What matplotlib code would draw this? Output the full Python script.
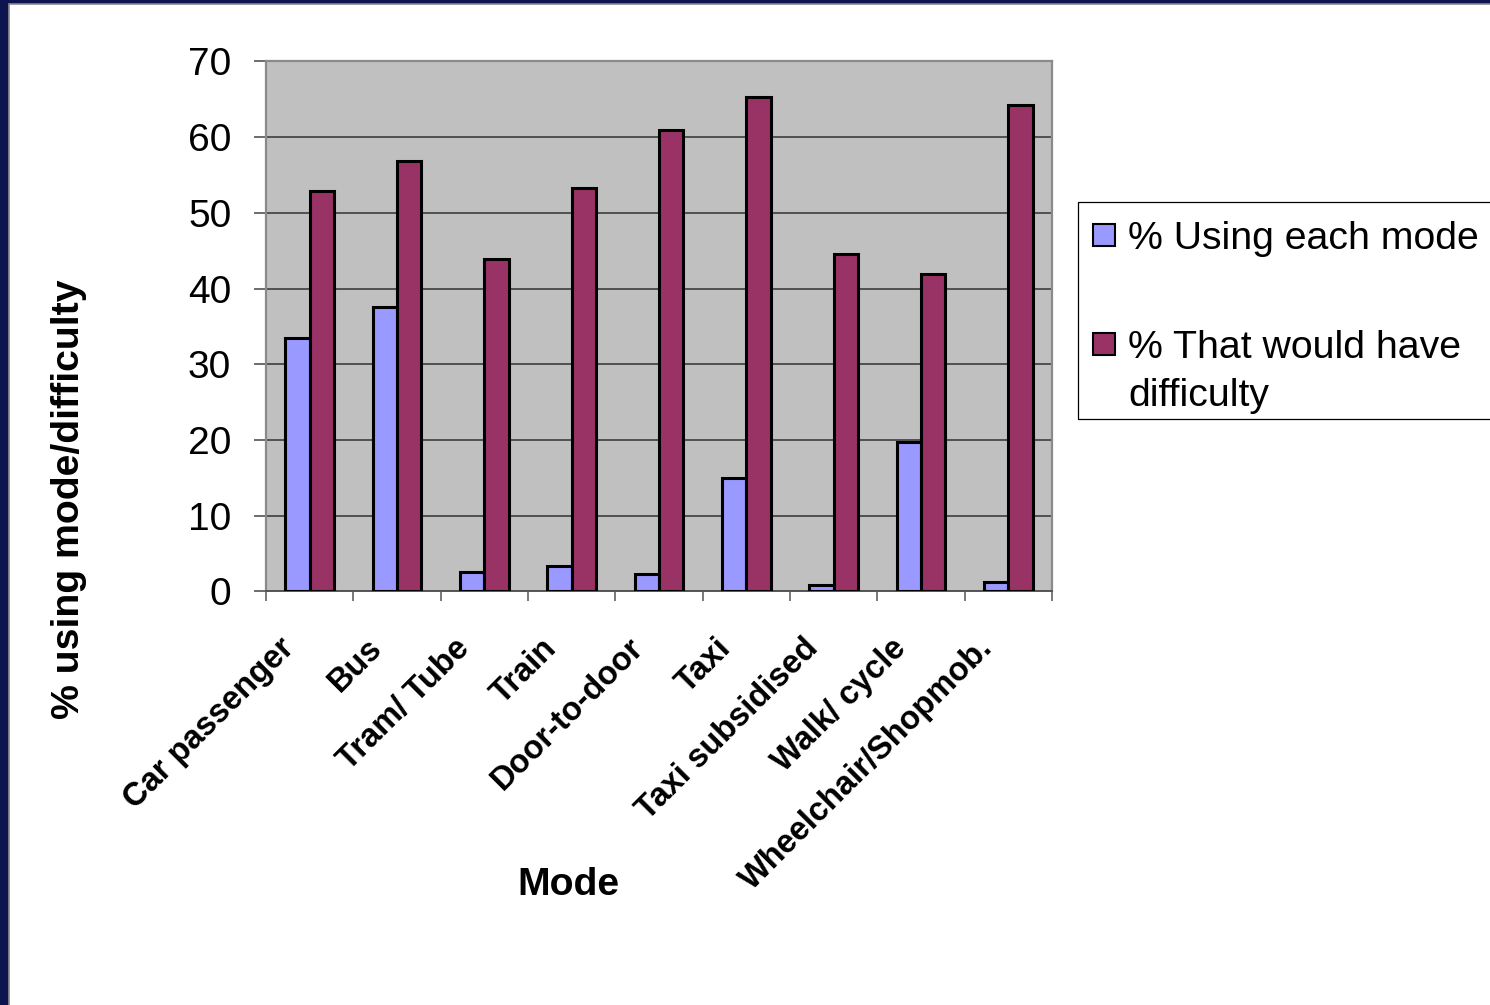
import numpy as np
import matplotlib
matplotlib.use("Agg")
import matplotlib.pyplot as plt
from matplotlib.patches import Rectangle
from matplotlib.transforms import ScaledTranslation, blended_transform_factory

plt.rcParams['font.family'] = ['Liberation Sans', 'DejaVu Sans']

# ---- data ----
modes = ["Car passenger", "Bus", "Tram/ Tube", "Train", "Door-to-door",
         "Taxi", "Taxi subsidised", "Walk/ cycle", "Wheelchair/Shopmob."]
pct_using = [33.5, 37.5, 2.6, 3.3, 2.3, 15.0, 0.9, 19.7, 1.3]
pct_difficulty = [52.9, 56.9, 43.9, 53.3, 60.9, 65.3, 44.5, 41.9, 64.3]
series_labels = ["% Using each mode", "% That would have\ndifficulty"]
series_colors = ["#9999FF", "#993366"]
y_ticks = [0, 10, 20, 30, 40, 50, 60, 70]

W, H = 1490, 1005
fig = plt.figure(figsize=(W / 100, H / 100), dpi=100)
fig.patch.set_facecolor("#0E144F")

# white slide area inside the dark frame
fig.patches.append(Rectangle((9 / W, -0.02), 1.1, 1 - 4.5 / H + 0.02,
                             transform=fig.transFigure, facecolor="white",
                             edgecolor="#8A8A8A", lw=1.2, zorder=-5))

ax = fig.add_axes([266 / W, 1 - 591.4 / H, 786 / W, 530 / H])
ax.set_facecolor("#C0C0C0")

x = np.arange(len(modes))
w = 0.28
ax.bar(x - w / 2, pct_using, w, color=series_colors[0], edgecolor="black",
       linewidth=2.2, zorder=3)
ax.bar(x + w / 2, pct_difficulty, w, color=series_colors[1], edgecolor="black",
       linewidth=2.2, zorder=3)

ax.set_xlim(-0.5, len(modes) - 0.5)
ax.set_ylim(0, 70)
ax.set_yticks(y_ticks)
ax.yaxis.grid(True, color="#333333", linewidth=1.1)
ax.set_axisbelow(True)

for side in ["top", "right", "left"]:
    ax.spines[side].set_color("#8A8A8A")
    ax.spines[side].set_linewidth(1.6)
ax.spines["bottom"].set_color("#555555")
ax.spines["bottom"].set_linewidth(1.4)

ax.tick_params(axis="y", direction="out", length=9, width=1.1, color="#444444",
               labelsize=28, pad=16)

# tick marks between categories, labels drawn separately
ax.set_xticks(np.arange(-0.5, len(modes), 1.0))
ax.set_xticklabels([])
ax.tick_params(axis="x", direction="out", length=7.5, width=1.1, color="#555555")

trans = blended_transform_factory(ax.transData, ax.transAxes) + \
    ScaledTranslation(-14 / 100, -58 / 100, fig.dpi_scale_trans)
for xi, name in zip(x, modes):
    ax.text(xi, 0, name, transform=trans, rotation=45, rotation_mode="anchor",
            ha="right", va="baseline", fontsize=23.5, fontweight="bold")

fig.text(69 / W, 1 - 499 / H, "% using mode/difficulty", rotation=90,
         ha="center", va="center", fontsize=28.3, fontweight="bold")
fig.text(568 / W, 1 - 885 / H, "Mode", ha="center", va="center",
         fontsize=28.3, fontweight="bold")

# legend box, running off the right edge
fig.patches.append(Rectangle((1078 / W, 1 - 419 / H), 500 / W, 217 / H,
                             transform=fig.transFigure, facecolor="white",
                             edgecolor="black", lw=0.9, zorder=2))
entry_y = [235, 344]
for cy, label, col in zip(entry_y, series_labels, series_colors):
    fig.patches.append(Rectangle((1093 / W, 1 - (cy + 11) / H), 22 / W, 22 / H,
                                 transform=fig.transFigure, facecolor=col,
                                 edgecolor="black", lw=1.5, zorder=3))
    for k, line in enumerate(label.split("\n")):
        base = cy + 14 + k * 48
        fig.text(1128 / W, 1 - base / H, line, ha="left", va="baseline",
                 fontsize=28.3, zorder=4)

fig.savefig("out.png", dpi=100)
